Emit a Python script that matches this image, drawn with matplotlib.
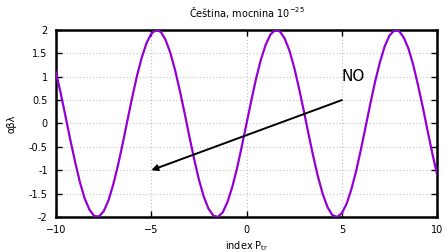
import numpy as np
import matplotlib
matplotlib.use("Agg")
import matplotlib.pyplot as plt

# curve samples, x from -10 to 10 in steps of 0.25
x_vals = np.linspace(-10, 10, 81)
y_vals = [1.09, 0.64, 0.15, -0.35, -0.82, -1.25, -1.60, -1.84, -1.98, -1.99,
          -1.88, -1.65, -1.31, -0.90, -0.43, 0.07, 0.56, 1.02, 1.41, 1.72,
          1.92, 2.00, 1.96, 1.79, 1.51, 1.14, 0.70, 0.22, -0.28, -0.76,
          -1.20, -1.56, -1.82, -1.97, -2.00, -1.90, -1.68, -1.36, -0.96, -0.49,
          0.00,
          0.49, 0.96, 1.36, 1.68, 1.90, 2.00, 1.97, 1.82, 1.56, 1.20,
          0.76, 0.28, -0.22, -0.70, -1.14, -1.51, -1.79, -1.96, -2.00, -1.92,
          -1.72, -1.41, -1.02, -0.56, -0.07, 0.43, 0.90, 1.31, 1.65, 1.88,
          1.99, 1.98, 1.84, 1.60, 1.25, 0.82, 0.35, -0.15, -0.64, -1.09]

xticks = [-10, -5, 0, 5, 10]
yticks = [-2, -1.5, -1, -0.5, 0, 0.5, 1, 1.5, 2]
ytick_labels = ["-2", "-1.5", "-1", "-0.5", "0", "0.5", "1", "1.5", "2"]

arrow_from = (5, 0.5)
arrow_to = (-5, -1)
label_pos = (5, 1)

fig = plt.figure(figsize=(4.46, 2.52), dpi=100)
ax = fig.add_axes([0.1256, 0.139, 0.8544, 0.742])

ax.plot(x_vals, y_vals, color="#9400d3", lw=1.6, zorder=3)

ax.set_xlim(-10, 10)
ax.set_ylim(-2, 2)
ax.set_xticks(xticks)
ax.set_yticks(yticks)
ax.set_yticklabels(ytick_labels)
ax.tick_params(direction="in", length=4, width=1, labelsize=7,
               top=True, right=True)
ax.tick_params(axis="x", pad=6)
ax.tick_params(axis="y", pad=6)
ax.grid(True, color="#c0c0c0", linestyle=(0, (1, 2)), lw=0.8)
for s in ax.spines.values():
    s.set_linewidth(1.8)

ax.annotate("", xy=arrow_to, xytext=arrow_from,
            arrowprops=dict(arrowstyle="-|>", color="black", lw=1.4,
                            mutation_scale=9, shrinkA=0, shrinkB=0), zorder=4)
ax.text(label_pos[0], label_pos[1], "NO", fontsize=11, ha="left", va="center")

ax.set_title("Čeština, mocnina 10$^{-25}$", fontsize=7, pad=9)
ax.set_xlabel("index P$_{\\mathrm{tr}}$", fontsize=7, labelpad=3)
ax.set_ylabel("αβλ", fontsize=7, labelpad=9)

fig.savefig("out.png", dpi=100)
